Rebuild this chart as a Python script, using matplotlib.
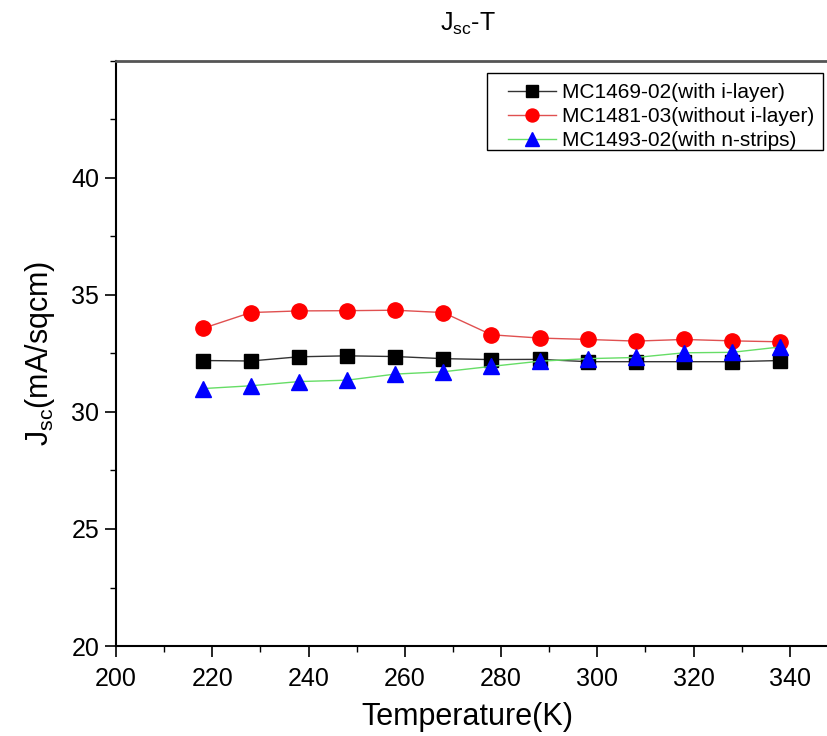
import matplotlib
matplotlib.use("Agg")
import matplotlib.pyplot as plt
from matplotlib.ticker import MultipleLocator
from matplotlib.patches import Rectangle

plt.rcParams['font.family'] = ['Liberation Sans', 'DejaVu Sans']
plt.rcParams['mathtext.fontset'] = 'custom'
plt.rcParams['mathtext.rm'] = 'Liberation Sans'
plt.rcParams['mathtext.it'] = 'Liberation Sans:italic'

# temperature (K)
temperature = [218, 228, 238, 248, 258, 268, 278, 288, 298, 308, 318, 328, 338]

# Jsc (mA/sqcm)
jsc_with_ilayer = [32.20, 32.18, 32.36, 32.40, 32.37, 32.28, 32.24, 32.25, 32.15, 32.15, 32.15, 32.15, 32.20]
jsc_without_ilayer = [33.57, 34.25, 34.32, 34.33, 34.35, 34.25, 33.30, 33.16, 33.10, 33.03, 33.10, 33.04, 33.00]
jsc_with_nstrips = [31.00, 31.12, 31.30, 31.36, 31.62, 31.72, 31.95, 32.17, 32.28, 32.33, 32.53, 32.55, 32.78]

labels = ['MC1469-02(with i-layer)', 'MC1481-03(without i-layer)', 'MC1493-02(with n-strips)']

fig = plt.figure(figsize=(8.28, 7.36), dpi=100)
ax = fig.add_axes([116 / 828, 1 - 646 / 736, 722 / 828, 585 / 736])

ax.plot(temperature, jsc_with_ilayer, color='#333333', lw=1.0, marker='s', ms=10,
        mfc='black', mec='black', label=labels[0])
ax.plot(temperature, jsc_without_ilayer, color='#e05050', lw=1.0, marker='o', ms=11,
        mfc='#ff0000', mec='#ff0000', label=labels[1])
ax.plot(temperature, jsc_with_nstrips, color='#66dd66', lw=1.0, marker='^', ms=12,
        mfc='#0000ff', mec='#0000ff', label=labels[2])

ax.set_xlim(200, 350)
ax.set_ylim(20, 45)
ax.xaxis.set_major_locator(MultipleLocator(20))
ax.xaxis.set_minor_locator(MultipleLocator(10))
ax.yaxis.set_minor_locator(MultipleLocator(2.5))
ax.set_yticks([20, 25, 30, 35, 40])
ax.tick_params(which='major', direction='out', length=8, width=1.2, labelsize=18)
ax.tick_params(which='minor', direction='out', length=4.5, width=1.0)
ax.tick_params(axis='x', which='major', pad=7)
ax.tick_params(axis='y', which='major', pad=4)
ax.tick_params(top=False, right=False, which='both')

for side in ['left', 'bottom']:
    ax.spines[side].set_linewidth(1.5)
    ax.spines[side].set_color('black')
ax.spines['top'].set_linewidth(2.0)
ax.spines['top'].set_color('#555555')

ax.set_xlabel('Temperature(K)', fontsize=22)
ax.xaxis.set_label_coords((467 - 116) / 722, -(725 - 646) / 585)
ax.xaxis.label.set_va('baseline')
ax.set_ylabel(r'J$_{\rm sc}$(mA/sqcm)', fontsize=22, labelpad=10)

fig.text(468 / 828, 1 - 24 / 736, r'J$_{\rm sc}$-T', fontsize=18, ha='center', va='center')

# legend without its own frame, boxed by a rectangle matching the reference
leg = ax.legend(loc='upper right', bbox_to_anchor=(821 / 828, 1 - 77 / 736),
                bbox_transform=fig.transFigure, borderaxespad=0, fontsize=15,
                frameon=False, handlelength=2.3, handletextpad=0.3,
                labelspacing=0.23, borderpad=0.3, markerscale=0.85)
fig.patches.append(Rectangle((487 / 828, 1 - 150 / 736), (823 - 487) / 828, 77 / 736,
                             transform=fig.transFigure, fill=False, ec='black', lw=1.0))

fig.savefig('out.png', dpi=100)
